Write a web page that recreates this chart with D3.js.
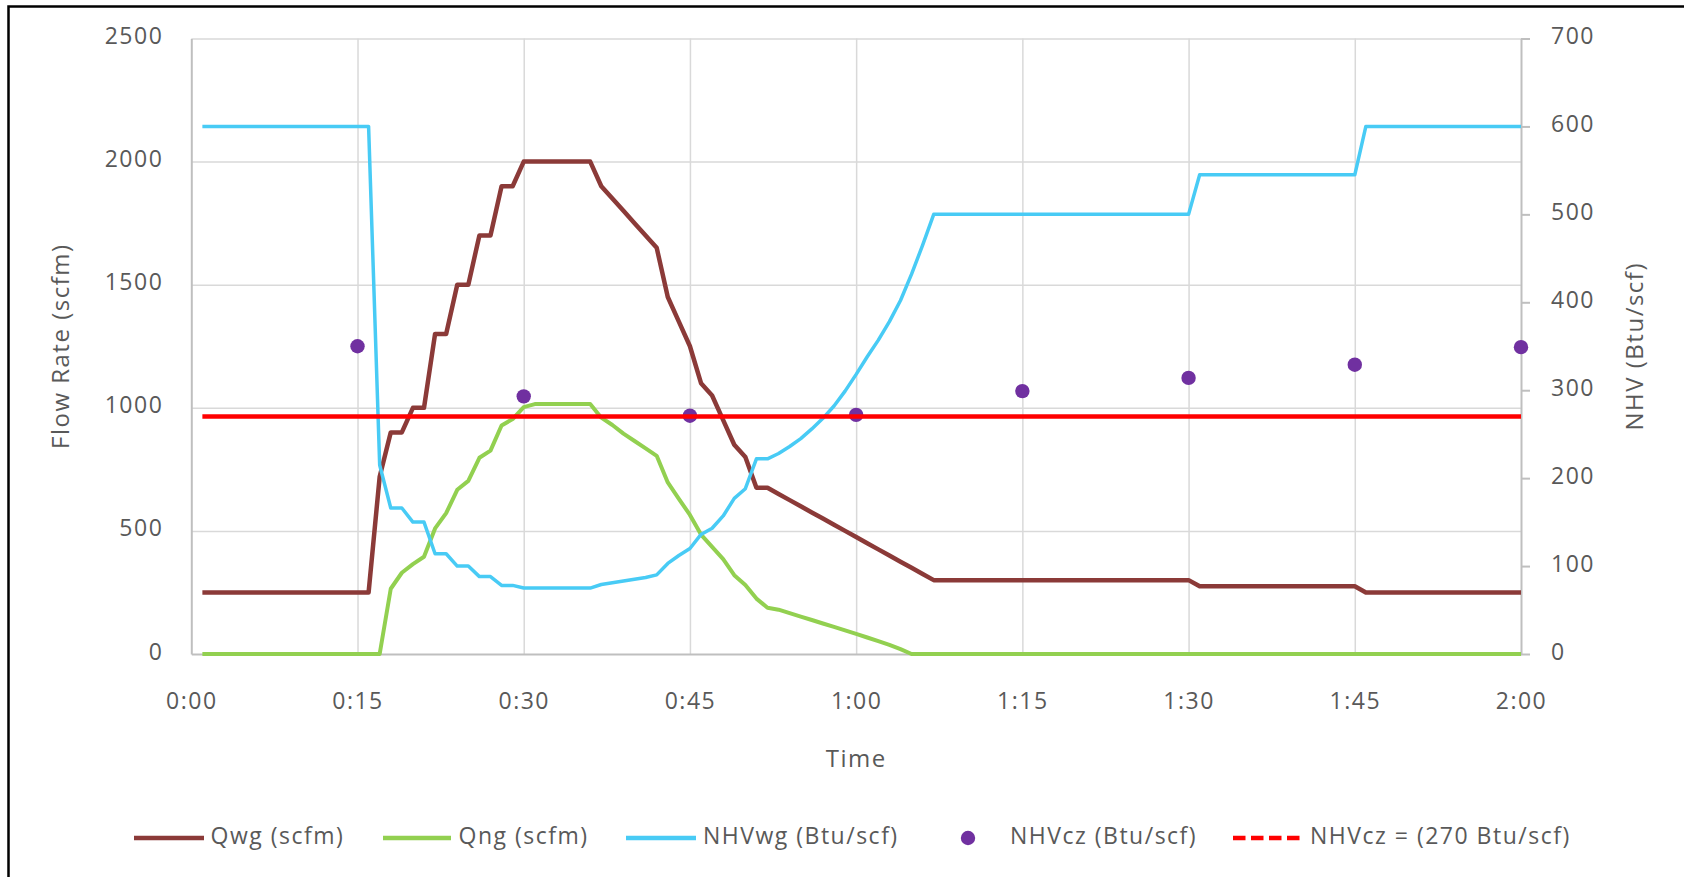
<!DOCTYPE html>
<html><head><meta charset="utf-8">
<script src="https://cdn.jsdelivr.net/npm/d3@7/dist/d3.min.js"></script>
<style>
html,body{margin:0;padding:0;background:#fff;overflow:hidden}
svg text{font-family:"Open Sans",sans-serif;fill:#595959}
</style></head><body>
<svg id="c" width="1684" height="877"></svg>
<script>
// ---------- DATA ----------
const minutes = [
  1,2,3,4,5,6,7,8,9,10,11,12,13,14,15,16,17,18,19,20,
  21,22,23,24,25,26,27,28,29,30,31,32,33,34,35,36,37,38,39,40,
  41,42,43,44,45,46,47,48,49,50,51,52,53,54,55,56,57,58,59,60,
  61,62,63,64,65,66,67,68,69,70,71,72,73,74,75,76,77,78,79,80,
  81,82,83,84,85,86,87,88,89,90,91,92,93,94,95,96,97,98,99,100,
  101,102,103,104,105,106,107,108,109,110,111,112,113,114,115,116,117,118,119,120];

const qwg = [ // Qwg (scfm)
  250,250,250,250,250,250,250,250,250,250,250,250,250,250,250,250,720,900,900,1000,
  1000,1300,1300,1500,1500,1700,1700,1900,1900,2000,2000,2000,2000,2000,2000,2000,1900,1850,1800,1750,
  1700,1650,1450,1350,1250,1100,1050,950,850,800,675,675,650,625,600,575,550,525,500,475,
  450,425,400,375,350,325,300,300,300,300,300,300,300,300,300,300,300,300,300,300,
  300,300,300,300,300,300,300,300,300,300,275,275,275,275,275,275,275,275,275,275,
  275,275,275,275,275,250,250,250,250,250,250,250,250,250,250,250,250,250,250,250];

const qng = [ // Qng (scfm)
  0,0,0,0,0,0,0,0,0,0,0,0,0,0,0,0,0,265,330,365,
  395,510,572,667,703,797,826,928,954,1003,1015,1015,1015,1015,1015,1015,960,930,895,865,
  835,805,697,630,565,485,435,385,320,280,225,188,180,166,152,138,124,110,96,82,
  67,52,37,20,0,0,0,0,0,0,0,0,0,0,0,0,0,0,0,0,
  0,0,0,0,0,0,0,0,0,0,0,0,0,0,0,0,0,0,0,0,
  0,0,0,0,0,0,0,0,0,0,0,0,0,0,0,0,0,0,0,0];

const nhvwg = [ // NHVwg (Btu/scf)
  600,600,600,600,600,600,600,600,600,600,600,600,600,600,600,600,215,166,166,150,
  150,114,114,100,100,88,88,78,78,75,75,75,75,75,75,75,79,81,83,85,
  87,90,103,112,120,136,143,157,177,188,222,222,228,236,245,256,268,282,299,318,
  338,357,378,402,432,465,500,500,500,500,500,500,500,500,500,500,500,500,500,500,
  500,500,500,500,500,500,500,500,500,500,545,545,545,545,545,545,545,545,545,545,
  545,545,545,545,545,600,600,600,600,600,600,600,600,600,600,600,600,600,600,600];

const czMinutes = [15,30,45,60,75,90,105,120];
const nhvcz = [350,293,271,272,299,314,329,349]; // NHVcz (Btu/scf)

const limitMinutes = [1,120];
const limitValues = [270,270]; // NHVcz = 270 Btu/scf

const xTickValues = [0,15,30,45,60,75,90,105,120];
const xTickLabels = ["0:00","0:15","0:30","0:45","1:00","1:15","1:30","1:45","2:00"];
const leftTicks = [0,500,1000,1500,2000,2500];
const rightTicks = [0,100,200,300,400,500,600,700];

const legendLabels = ["Qwg (scfm)","Qng (scfm)","NHVwg (Btu/scf)","NHVcz (Btu/scf)","NHVcz = (270 Btu/scf)"];

// ---------- LAYOUT ----------
const W = 1684, H = 877;
const L = 191.3, R = 1521, T = 38.5, B = 654;
const C = {qwg:"#8B3A38", qng:"#92D050", nhvwg:"#48CBF5", cz:"#7030A0", lim:"#FF0000"};

const svg = d3.select("#c");
svg.append("rect").attr("width",W).attr("height",H).attr("fill","#fff");
svg.append("rect").attr("x",8.5).attr("y",6.5).attr("width",W+40).attr("height",H+40)
   .attr("fill","none").attr("stroke","#000").attr("stroke-width",2.5);

const x = d3.scaleLinear().domain([0,120]).range([L,R]);
const yL = d3.scaleLinear().domain([0,2500]).range([B,T]);
const yR = d3.scaleLinear().domain([0,700]).range([B,T]);

// gridlines
const gx = svg.append("g").attr("transform",`translate(0,${B})`)
  .call(d3.axisBottom(x).tickValues(xTickValues.slice(1,-1)).tickSize(-(B-T)).tickFormat(""));
gx.select(".domain").remove();
gx.selectAll("line").attr("stroke","#d9d9d9").attr("stroke-width",1.5);
const gy = svg.append("g").attr("transform",`translate(${L},0)`)
  .call(d3.axisLeft(yL).tickValues(leftTicks.slice(1)).tickSize(-(R-L)).tickFormat(""));
gy.select(".domain").remove();
gy.selectAll("line").attr("stroke","#d9d9d9").attr("stroke-width",1.5);

// axes
const fontTick = "23px";
const ax = svg.append("g").attr("transform",`translate(0,${B})`)
  .call(d3.axisBottom(x).tickValues(xTickValues).tickFormat((d,i)=>xTickLabels[i]).tickSize(0).tickSizeOuter(0));
ax.select(".domain").attr("stroke","#bfbfbf").attr("stroke-width",2);
ax.selectAll("text").attr("y",55).attr("dy",null).style("font-size",fontTick).style("letter-spacing","1.5px")
  .attr("font-family",null).attr("fill",null);

const al = svg.append("g").attr("transform",`translate(${L},0)`)
  .call(d3.axisLeft(yL).tickValues(leftTicks).tickFormat(d3.format("d")).tickSize(0).tickSizeOuter(0).tickPadding(28));
al.select(".domain").attr("stroke","#bfbfbf").attr("stroke-width",2);
al.selectAll("text").attr("dy","5").style("font-size",fontTick).style("letter-spacing","1.5px")
  .attr("font-family",null).attr("fill",null);

const ar = svg.append("g").attr("transform",`translate(${R},0)`)
  .call(d3.axisRight(yR).tickValues(rightTicks).tickFormat(d3.format("d")).tickSize(9).tickSizeOuter(0).tickPadding(21));
ar.select(".domain").attr("stroke","#bfbfbf").attr("stroke-width",2);
ar.selectAll("line").attr("stroke","#bfbfbf").attr("stroke-width",2);
ar.selectAll("text").attr("dy","5").style("font-size",fontTick).style("letter-spacing","1.5px")
  .attr("font-family",null).attr("fill",null);
svg.selectAll(".tick text").attr("font-size",null);

// titles
svg.append("text").attr("transform",`translate(69,${(T+B)/2}) rotate(-90)`).attr("text-anchor","middle")
  .style("font-size","24px").style("letter-spacing","1.5px").text("Flow Rate (scfm)");
svg.append("text").attr("transform",`translate(1643,${(T+B)/2}) rotate(-90)`).attr("text-anchor","middle")
  .style("font-size","24px").style("letter-spacing","1.5px").text("NHV (Btu/scf)");
svg.append("text").attr("x",(L+R)/2).attr("y",767).attr("text-anchor","middle")
  .style("font-size","24px").style("letter-spacing","1.5px").text("Time");

// series
function pts(ts, vs){ return ts.map((t,i)=>({t, v:vs[i]})); }
const lineL = d3.line().x(d=>x(d.t)).y(d=>yL(d.v));
const lineR = d3.line().x(d=>x(d.t)).y(d=>yR(d.v));

svg.append("path").datum(pts(minutes,qwg)).attr("d",lineL).attr("fill","none")
  .attr("stroke",C.qwg).attr("stroke-width",4.5).attr("stroke-linejoin","round");
svg.append("path").datum(pts(minutes,qng)).attr("d",lineL).attr("fill","none")
  .attr("stroke",C.qng).attr("stroke-width",4).attr("stroke-linejoin","round");
svg.append("path").datum(pts(minutes,nhvwg)).attr("d",lineR).attr("fill","none")
  .attr("stroke",C.nhvwg).attr("stroke-width",3.5).attr("stroke-linejoin","round");
svg.append("g").selectAll("circle").data(pts(czMinutes,nhvcz)).join("circle")
  .attr("cx",d=>x(d.t)).attr("cy",d=>yR(d.v)).attr("r",7.2).attr("fill",C.cz);
svg.append("path").datum(pts(limitMinutes,limitValues)).attr("d",lineR).attr("fill","none")
  .attr("stroke",C.lim).attr("stroke-width",4.5);

// legend
const ly = 838, lty = 844;
const lg = svg.append("g");
const legendLayout = [
  {type:"line", x1:134, x2:204, tx:210.5, color:C.qwg},
  {type:"line", x1:383, x2:451, tx:458.5, color:C.qng},
  {type:"line", x1:626, x2:696, tx:703, color:C.nhvwg},
  {type:"dot",  cx:968, tx:1010, color:C.cz},
  {type:"dash", x1:1233, x2:1300, tx:1310, color:C.lim}
];
legendLayout.forEach((it,i)=>{
  if(it.type==="dot"){
    lg.append("circle").attr("cx",it.cx).attr("cy",ly).attr("r",7.2).attr("fill",it.color);
  } else {
    const l = lg.append("line").attr("x1",it.x1).attr("x2",it.x2).attr("y1",ly).attr("y2",ly)
      .attr("stroke",it.color).attr("stroke-width",4.5);
    if(it.type==="dash") l.attr("stroke-dasharray","12.5,5.5");
  }
  lg.append("text").attr("x",it.tx).attr("y",lty).style("font-size","23px").style("letter-spacing","1.5px")
    .text(legendLabels[i]);
});
</script>
</body></html>
